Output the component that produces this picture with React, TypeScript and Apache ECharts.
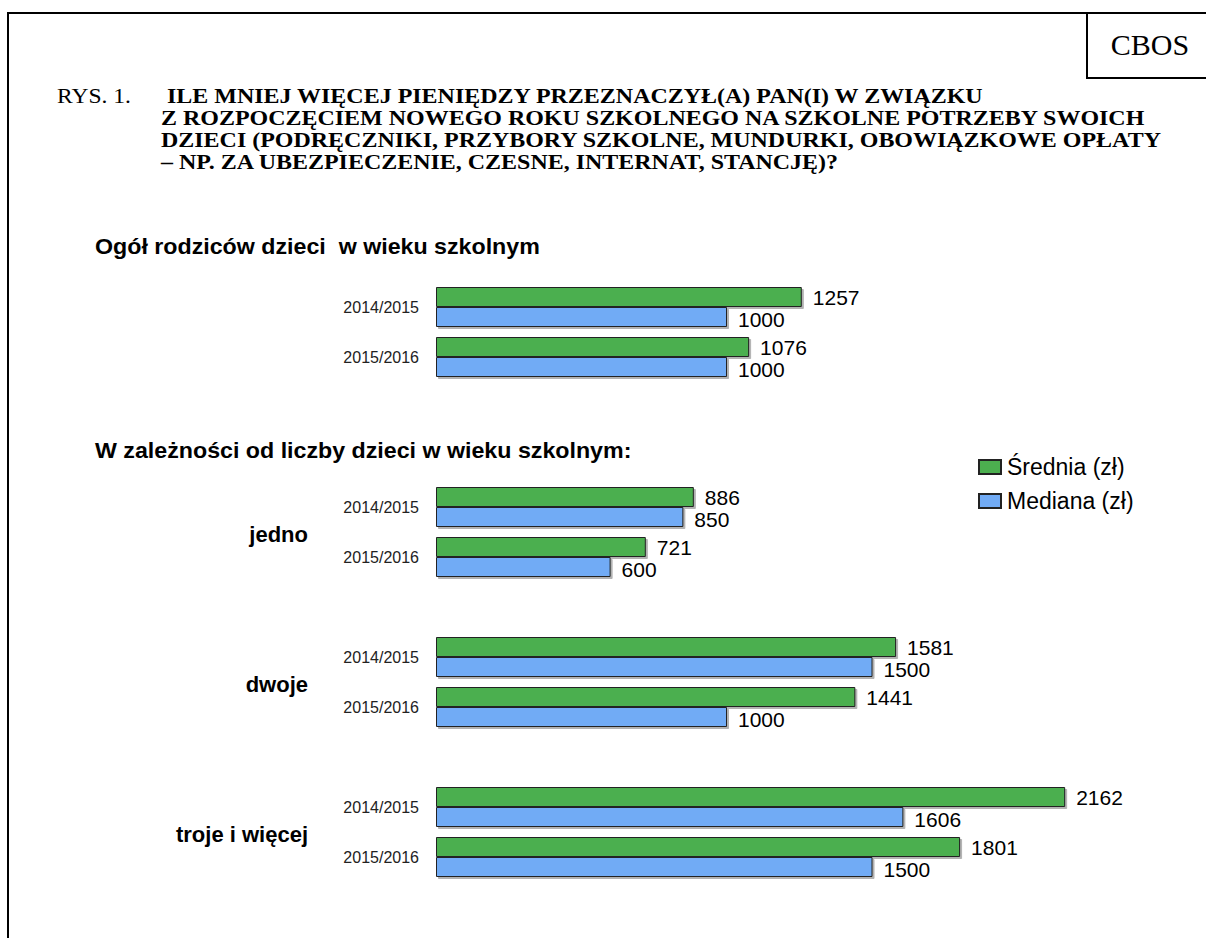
import React, { useEffect, useRef } from "react";
import * as echarts from "echarts";

const seasons = ["2014/2015", "2015/2016"];
const groupNames = ["ogol", "jedno", "dwoje", "troje i więcej"];
const sredniaByGroup = [
  [1257, 1076],
  [886, 721],
  [1581, 1441],
  [2162, 1801],
];
const medianaByGroup = [
  [1000, 1000],
  [850, 600],
  [1500, 1000],
  [1606, 1500],
];
// number of empty category slots placed after each group
const spacersAfter = [2, 1, 1, 0];

const titleLines = [
  " ILE MNIEJ WIĘCEJ PIENIĘDZY PRZEZNACZYŁ(A) PAN(I) W ZWIĄZKU",
  "Z ROZPOCZĘCIEM NOWEGO ROKU SZKOLNEGO NA SZKOLNE POTRZEBY SWOICH",
  "DZIECI (PODRĘCZNIKI, PRZYBORY SZKOLNE, MUNDURKI, OBOWIĄZKOWE OPŁATY",
  "– NP. ZA UBEZPIECZENIE, CZESNE, INTERNAT, STANCJĘ)?",
];

const categories: string[] = [];
const srednia: (number | null)[] = [];
const mediana: (number | null)[] = [];
groupNames.forEach((_, g) => {
  seasons.forEach((s, i) => {
    categories.push(s);
    srednia.push(sredniaByGroup[g][i]);
    mediana.push(medianaByGroup[g][i]);
  });
  for (let k = 0; k < spacersAfter[g]; k++) {
    categories.push("");
    srednia.push(null);
    mediana.push(null);
  }
});

const GREEN = "#4caf4f";
const BLUE = "#71abf5";
const SERIF = "'Liberation Serif', 'Times New Roman', serif";
const SANS = "'Liberation Sans', Arial, sans-serif";

export default function App() {
  const ref = useRef<HTMLDivElement>(null);
  useEffect(() => {
    if (!ref.current) return;
    const chart = echarts.init(ref.current, null, { renderer: "svg" });
    const lineStyle = { stroke: "#000", lineWidth: 2 };
    const graphic: any[] = [
      { type: "line", shape: { x1: 7, y1: 13, x2: 1206, y2: 13 }, style: lineStyle },
      { type: "line", shape: { x1: 8, y1: 12, x2: 8, y2: 938 }, style: lineStyle },
      { type: "line", shape: { x1: 1087, y1: 13, x2: 1087, y2: 78 }, style: lineStyle },
      { type: "line", shape: { x1: 1086, y1: 78, x2: 1206, y2: 78 }, style: lineStyle },
      {
        type: "text",
        x: 1150,
        y: 44,
        style: { text: "CBOS", font: `30px ${SERIF}`, fill: "#000", align: "center", verticalAlign: "middle" },
      },
      {
        type: "text",
        x: 57,
        y: 96,
        scaleX: 1.07,
        style: { text: "RYS. 1.", font: `22px ${SERIF}`, fill: "#000", align: "left", verticalAlign: "middle" },
      },
      ...titleLines.map((t, i) => ({
        type: "text",
        x: 161,
        y: 95.5 + i * 22,
        scaleX: 1.09,
        style: { text: t, font: `bold 22px ${SERIF}`, fill: "#000", align: "left", verticalAlign: "middle" },
      })),
      {
        type: "text",
        x: 95,
        y: 247,
        scaleX: 1.08,
        style: {
          text: "Ogół rodziców dzieci  w wieku szkolnym",
          font: `bold 21.5px ${SANS}`,
          fill: "#000",
          align: "left",
          verticalAlign: "middle",
        },
      },
      {
        type: "text",
        x: 95,
        y: 451,
        scaleX: 1.08,
        style: {
          text: "W zależności od liczby dzieci w wieku szkolnym:",
          font: `bold 21.5px ${SANS}`,
          fill: "#000",
          align: "left",
          verticalAlign: "middle",
        },
      },
      ...[
        { t: groupNames[1], y: 534 },
        { t: groupNames[2], y: 684 },
        { t: groupNames[3], y: 834 },
      ].map((g) => ({
        type: "text",
        x: 308,
        y: g.y,
        style: { text: g.t, font: `bold 22px ${SANS}`, fill: "#000", align: "right", verticalAlign: "middle" },
      })),
    ];

    const barCommon = {
      type: "bar",
      barWidth: 20,
      barGap: "0%",
      barCategoryGap: "20%",
      label: {
        show: true,
        position: "right",
        distance: 11,
        fontFamily: SANS,
        fontSize: 21,
        color: "#000",
      },
    };
    const shadow = {
      borderColor: "#222",
      borderWidth: 1,
      shadowColor: "rgba(0,0,0,0.3)",
      shadowOffsetX: 2,
      shadowOffsetY: 2,
      shadowBlur: 1,
    };

    chart.setOption({
      animation: false,
      graphic,
      legend: {
        left: 973,
        top: 450,
        orient: "vertical",
        icon: "rect",
        itemWidth: 22,
        itemHeight: 14,
        itemGap: 10,
        textStyle: { fontFamily: SANS, fontSize: 23, color: "#000", lineHeight: 24, padding: [0, 0, 0, 1] },
        data: ["Średnia (zł)", "Mediana (zł)"],
      },
      grid: { left: 436, top: 282, width: 727.5, height: 600, containLabel: false },
      xAxis: { type: "value", min: 0, max: 2500, show: false },
      yAxis: {
        type: "category",
        inverse: true,
        data: categories,
        axisLine: { show: false },
        axisTick: { show: false },
        axisLabel: { interval: 0, margin: 17, fontFamily: SANS, fontSize: 16, color: "#222" },
      },
      series: [
        {
          ...barCommon,
          name: "Średnia (zł)",
          data: srednia,
          itemStyle: { color: GREEN, ...shadow },
          label: { ...barCommon.label, offset: [0, 0] },
        },
        {
          ...barCommon,
          name: "Mediana (zł)",
          data: mediana,
          itemStyle: { color: BLUE, ...shadow },
          label: { ...barCommon.label, offset: [0, 2] },
        },
      ],
    });
    return () => chart.dispose();
  }, []);
  return (
    <div
      ref={ref}
      style={{ position: "absolute", left: 0, top: 0, width: 1206, height: 938, background: "#fff" }}
    />
  );
}
